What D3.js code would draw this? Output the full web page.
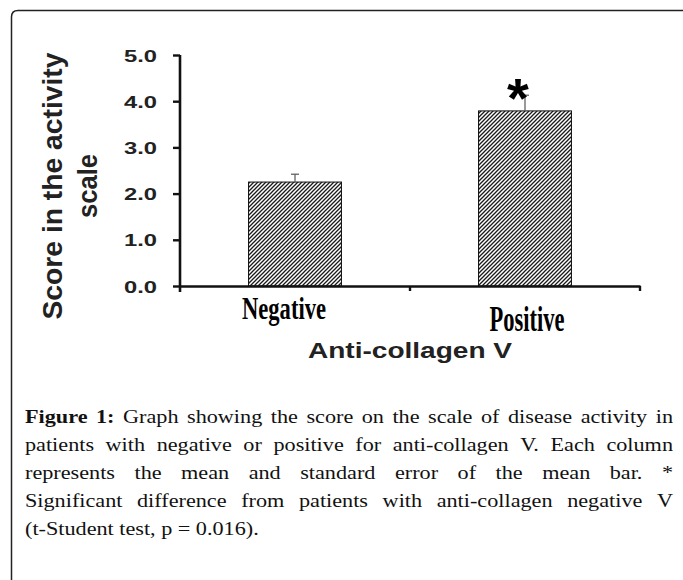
<!DOCTYPE html>
<html lang="en">
<head>
  <meta charset="utf-8" />
  <title>Figure 1</title>
  <script src="https://cdn.jsdelivr.net/npm/d3@7"></script>
  <style>
    body { margin: 0; background: #fff; }
    svg { display: block; }
  </style>
</head>
<body>
<script>
  // data
  var groups = ["Negative", "Positive"];
  var means = [2.25, 3.79];
  var sems = [0.17, 0.34];
  var significant = [false, true];
  var yTicks = [0, 1, 2, 3, 4, 5];

  var captionLines = [
    "Figure 1: Graph showing the score on the scale of disease activity in",
    "patients with negative or positive for anti-collagen V. Each column",
    "represents the mean and standard error of the mean bar. *",
    "Significant difference from patients with anti-collagen negative V",
    "(t-Student test, p = 0.016)."
  ];

  var W = 683, H = 580;
  var plotL = 180, plotR = 640, plotT = 55, plotB = 286;

  var svg = d3.select("body").append("svg")
    .attr("width", W)
    .attr("height", H);

  // hatch fill for the columns
  var defs = svg.append("defs");
  defs.append("pattern")
    .attr("id", "hatch")
    .attr("patternUnits", "userSpaceOnUse")
    .attr("width", 4)
    .attr("height", 4)
    .append("path")
    .attr("d", "M-1,1 l2,-2 M0,4 l4,-4 M3,5 l2,-2")
    .attr("stroke", "#1a1a1a")
    .attr("stroke-width", 1.3);

  // frame round the figure
  svg.append("path")
    .attr("d", "M11.5," + H + " V17 Q11.5,10.5 18,10.5 H" + W)
    .attr("fill", "none")
    .attr("stroke", "#222")
    .attr("stroke-width", 1.5);

  var x = d3.scaleBand()
    .domain(groups)
    .range([plotL, plotR])
    .paddingInner(0.596)
    .paddingOuter(0.298);

  var y = d3.scaleLinear()
    .domain([0, 5])
    .range([plotB, plotT]);

  var chart = svg.append("g");

  // bars
  chart.selectAll("rect.bar")
    .data(groups)
    .enter().append("rect")
    .attr("class", "bar")
    .attr("x", function(d) { return x(d); })
    .attr("y", function(d, i) { return y(means[i]); })
    .attr("width", x.bandwidth())
    .attr("height", function(d, i) { return y(0) - y(means[i]); })
    .attr("fill", "url(#hatch)")
    .attr("stroke", "#111")
    .attr("stroke-width", 1);

  // error bars
  var err = chart.selectAll("g.err")
    .data(groups)
    .enter().append("g")
    .attr("class", "err");
  err.append("line")
    .attr("x1", function(d) { return x(d) + x.bandwidth() / 2; })
    .attr("x2", function(d) { return x(d) + x.bandwidth() / 2; })
    .attr("y1", function(d, i) { return y(means[i]); })
    .attr("y2", function(d, i) { return y(means[i] + sems[i]); })
    .attr("stroke", "#555")
    .attr("stroke-width", 1.2);
  err.append("line")
    .attr("x1", function(d) { return x(d) + x.bandwidth() / 2 - 4; })
    .attr("x2", function(d) { return x(d) + x.bandwidth() / 2 + 4; })
    .attr("y1", function(d, i) { return y(means[i] + sems[i]); })
    .attr("y2", function(d, i) { return y(means[i] + sems[i]); })
    .attr("stroke", "#555")
    .attr("stroke-width", 1.2);

  // significance star
  chart.selectAll("text.star")
    .data(groups.filter(function(d, i) { return significant[i]; }))
    .enter().append("text")
    .attr("class", "star")
    .attr("x", function(d) { return x(d) + x.bandwidth() / 2 - 7; })
    .attr("y", function(d) { var i = groups.indexOf(d); return y(means[i] + sems[i]) + 22; })
    .attr("text-anchor", "middle")
    .style("font-family", "'Liberation Sans', Arial, sans-serif")
    .style("font-weight", "bold")
    .style("font-size", "56px")
    .text("*");

  // y axis
  var yAxis = chart.append("g")
    .attr("transform", "translate(" + plotL + ",0)")
    .call(d3.axisLeft(y).tickValues(yTicks).tickFormat(d3.format(".1f")).tickSize(7).tickSizeOuter(0).tickPadding(16));
  yAxis.select(".domain")
    .attr("d", "M0," + plotT + "V" + (plotB + 6))
    .attr("stroke", "#111")
    .attr("stroke-width", 2.6);
  yAxis.selectAll(".tick line").attr("stroke", "#111").attr("stroke-width", 2.4);
  yAxis.selectAll(".tick text")
    .attr("fill", "#222")
    .attr("dy", "0.36em")
    .attr("textLength", 33)
    .attr("lengthAdjust", "spacingAndGlyphs")
    .style("font-family", "'Liberation Sans', Arial, sans-serif")
    .style("font-weight", "bold")
    .style("font-size", "17px");

  // x axis: line with ticks at the group borders
  var xAxis = chart.append("g")
    .attr("transform", "translate(0," + plotB + ")")
    .call(d3.axisBottom(x).tickSize(0).tickSizeOuter(0).tickFormat(""));
  xAxis.select(".domain")
    .attr("stroke", "#111")
    .attr("stroke-width", 2.6);
  xAxis.selectAll(".tick").remove();
  var borders = groups.map(function(d) { return x(d) + x.bandwidth() + x.step() * x.paddingInner() / 2; });
  xAxis.selectAll("line.border")
    .data(borders)
    .enter().append("line")
    .attr("class", "border")
    .attr("x1", function(d) { return d; })
    .attr("x2", function(d) { return d; })
    .attr("y1", 0)
    .attr("y2", 5)
    .attr("stroke", "#111")
    .attr("stroke-width", 2.4);

  // category labels (condensed serif, as in the figure)
  var labelStyle = [
    { dx: -11, y: 319, size: 32, len: 84 },
    { dx: 2, y: 331, size: 36, len: 75 }
  ];
  chart.selectAll("text.cat")
    .data(groups)
    .enter().append("text")
    .attr("class", "cat")
    .attr("x", function(d, i) { return x(d) + x.bandwidth() / 2 + labelStyle[i].dx; })
    .attr("y", function(d, i) { return labelStyle[i].y; })
    .attr("text-anchor", "middle")
    .attr("textLength", function(d, i) { return labelStyle[i].len; })
    .attr("lengthAdjust", "spacingAndGlyphs")
    .style("font-family", "'Liberation Serif', 'Times New Roman', serif")
    .style("font-weight", "bold")
    .style("font-size", function(d, i) { return labelStyle[i].size + "px"; })
    .text(function(d) { return d; });

  // axis titles
  chart.append("text")
    .attr("x", (plotL + plotR) / 2)
    .attr("y", 358)
    .attr("text-anchor", "middle")
    .attr("textLength", 204)
    .attr("lengthAdjust", "spacingAndGlyphs")
    .attr("fill", "#222")
    .style("font-family", "'Liberation Sans', Arial, sans-serif")
    .style("font-weight", "bold")
    .style("font-size", "22px")
    .text("Anti-collagen V");

  var yTitle = chart.append("text")
    .attr("transform", "translate(62,186) rotate(-90)")
    .attr("text-anchor", "middle")
    .attr("fill", "#222")
    .style("font-family", "'Liberation Sans', Arial, sans-serif")
    .style("font-weight", "bold")
    .style("font-size", "27px");
  yTitle.append("tspan")
    .attr("x", 0).attr("y", 0)
    .attr("textLength", 267)
    .attr("lengthAdjust", "spacingAndGlyphs")
    .text("Score in the activity");
  yTitle.append("tspan")
    .attr("x", 0).attr("y", 35)
    .attr("textLength", 64)
    .attr("lengthAdjust", "spacingAndGlyphs")
    .text("scale");

  // caption, justified between two margins; words widened a little
  // since the original face is broader than Times
  var capLeft = 25, capRight = 673, capTop = 423, capStep = 28;
  var widen = 1.2, normalGap = 5.5;
  var cap = svg.append("g")
    .style("font-family", "'Liberation Serif', 'Times New Roman', serif")
    .style("font-size", "18.5px")
    .attr("fill", "#111");

  captionLines.forEach(function(line, li) {
    var words = line.split(" ");
    var yy = capTop + li * capStep;
    var nodes = words.map(function(w, wi) {
      return cap.append("text")
        .attr("y", yy)
        .style("font-weight", (li === 0 && wi < 2) ? "bold" : "normal")
        .text(w);
    });
    var widths = nodes.map(function(n) { return n.node().getComputedTextLength() * widen; });
    nodes.forEach(function(n, k) {
      n.attr("textLength", widths[k]).attr("lengthAdjust", "spacingAndGlyphs");
    });
    var total = d3.sum(widths);
    var gap = (li === captionLines.length - 1 || words.length < 2)
      ? normalGap
      : (capRight - capLeft - total) / (words.length - 1);
    var cx = capLeft;
    nodes.forEach(function(n, k) {
      n.attr("x", cx);
      cx += widths[k] + gap;
    });
  });
</script>
</body>
</html>
